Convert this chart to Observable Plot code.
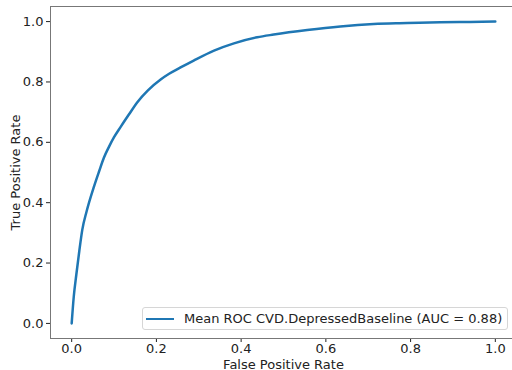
<!DOCTYPE html>
<html>
<head>
<meta charset="utf-8">
<script src="https://cdn.jsdelivr.net/npm/d3@7"></script>
<script src="https://cdn.jsdelivr.net/npm/@observablehq/plot@0.6"></script>
<style>
  html, body { margin: 0; padding: 0; background: #fff; overflow: hidden; }
  #wrap { position: relative; width: 512px; height: 370px; overflow: hidden; font-family: "DejaVu Sans", sans-serif; }
  #wrap svg { max-width: none !important; }
  #legend { position: absolute; left: 142px; top: 307px; width: 366px; height: 23px; box-sizing: border-box;
    border: 1px solid #d6d6d6; border-radius: 3px; background: rgba(255,255,255,0.85);
    font-size: 13px; color: #222; display: flex; align-items: center; white-space: nowrap; }
  #legend .sw { width: 28px; height: 0; border-top: 2.5px solid #1f77b4; margin-left: 3px; margin-right: 10px; }
</style>
</head>
<body>
<div id="wrap"></div>
<script>
const fpr = [0, 0.005, 0.011, 0.018, 0.025, 0.035, 0.053, 0.065, 0.076, 0.088, 0.1, 0.116, 0.135, 0.155, 0.18, 0.21, 0.23, 0.257, 0.288, 0.336, 0.383, 0.438, 0.477, 0.556, 0.634, 0.713, 0.792, 0.87, 0.94, 1.0];
const tpr = [0, 0.09, 0.162, 0.24, 0.31, 0.37, 0.455, 0.505, 0.549, 0.585, 0.617, 0.652, 0.692, 0.733, 0.772, 0.808, 0.827, 0.848, 0.871, 0.904, 0.928, 0.948, 0.957, 0.972, 0.984, 0.992, 0.995, 0.998, 0.999, 1.0];
const ticks = [0, 0.2, 0.4, 0.6, 0.8, 1.0];
const seriesLabel = "Mean ROC CVD.DepressedBaseline (AUC = 0.88)";

const data = fpr.map((x, i) => ({x, y: tpr[i]}));

const chart = Plot.plot({
  width: 520,
  height: 370,
  marginLeft: 50,
  marginRight: 4,
  marginTop: 6,
  marginBottom: 32,
  style: {fontFamily: "DejaVu Sans, sans-serif", fontSize: "13px", color: "#222", background: "#fff", maxWidth: "none"},
  x: {domain: [-0.05, 1.05], ticks: ticks, tickFormat: d3.format(".1f"), tickSize: 4, tickPadding: 1,
      label: "False Positive Rate", labelAnchor: "center", labelArrow: "none", labelOffset: 30},
  y: {domain: [-0.05, 1.05], ticks: ticks, tickFormat: d3.format(".1f"), tickSize: 4, tickPadding: 3,
      label: "True Positive Rate", labelAnchor: "center", labelArrow: "none", labelOffset: 40},
  marks: [
    Plot.frame({stroke: "#777", strokeWidth: 1}),
    Plot.line(data, {x: "x", y: "y", stroke: "#1f77b4", strokeWidth: 2.5, curve: "monotone-x"})
  ]
});
document.getElementById("wrap").appendChild(chart);

const leg = document.createElement("div");
leg.id = "legend";
leg.innerHTML = '<span class="sw"></span><span></span>';
leg.lastChild.textContent = seriesLabel;
document.getElementById("wrap").appendChild(leg);
</script>
</body>
</html>
